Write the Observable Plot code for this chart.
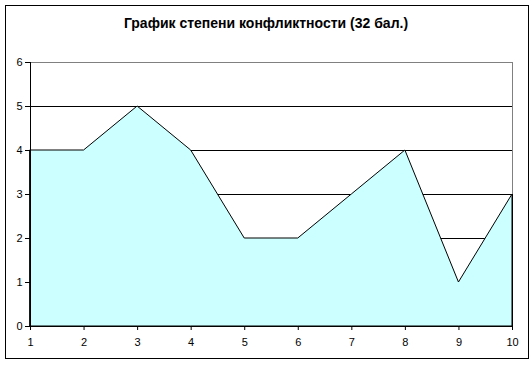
<!DOCTYPE html>
<html>
<head>
<meta charset="utf-8">
<script src="https://cdn.jsdelivr.net/npm/d3@7"></script>
<script src="https://cdn.jsdelivr.net/npm/@observablehq/plot@0.6"></script>
<style>
  html, body { margin: 0; padding: 0; background: #fff; }
  #wrap { position: relative; width: 532px; height: 365px; overflow: hidden; }
  #frame { position: absolute; left: 5px; top: 5px; width: 522px; height: 352px; border: 1px solid #000; pointer-events: none; }
  #title { position: absolute; left: 0; top: 15px; width: 532px; text-align: center;
    font: bold 14px "Liberation Sans", Arial, sans-serif; color: #000; }
  #chart { position: absolute; left: 0; top: 0; }
</style>
</head>
<body>
<div id="wrap">
  <div id="chart"></div>
  <div id="frame"></div>
  <div id="title">График степени конфликтности (32 бал.)</div>
</div>
<script>
const categories = [1, 2, 3, 4, 5, 6, 7, 8, 9, 10];
const values = [4, 4, 5, 4, 2, 2, 3, 4, 1, 3];
const yTicks = [0, 1, 2, 3, 4, 5, 6];
const gridLines = [1, 2, 3, 4, 5];

const data = categories.map((c, i) => ({x: c, y: values[i]}));

const chart = Plot.plot({
  width: 532,
  height: 365,
  marginLeft: 30,
  marginRight: 20,
  marginTop: 62,
  marginBottom: 39,
  style: {fontFamily: "'Liberation Sans', Arial, sans-serif", fontSize: "11px", color: "#000", background: "transparent"},
  x: {domain: [1, 10]},
  y: {domain: [0, 6]},
  marks: [
    Plot.ruleY(gridLines, {stroke: "#000", strokeWidth: 1}),
    Plot.areaY(data, {x: "x", y: "y", fill: "#CCFFFF", stroke: "#000", strokeWidth: 1, curve: "linear"}),
    Plot.ruleY([6], {stroke: "#808080"}),
    Plot.ruleX([10], {stroke: "#808080", y1: 3, y2: 6}),
    Plot.ruleX([10], {stroke: "#000", y1: 0, y2: 3}),
    Plot.ruleX([1], {stroke: "#000"}),
    Plot.ruleY([0], {stroke: "#000"}),
    Plot.axisX({ticks: categories, tickFormat: d => String(d), tickSize: 4, tickPadding: 8, stroke: "#000", fill: "#000", label: null}),
    Plot.axisY({ticks: yTicks, tickFormat: d => String(d), tickSize: 5, tickPadding: 3, stroke: "#000", fill: "#000", label: null})
  ]
});
document.getElementById("chart").appendChild(chart);
</script>
</body>
</html>
